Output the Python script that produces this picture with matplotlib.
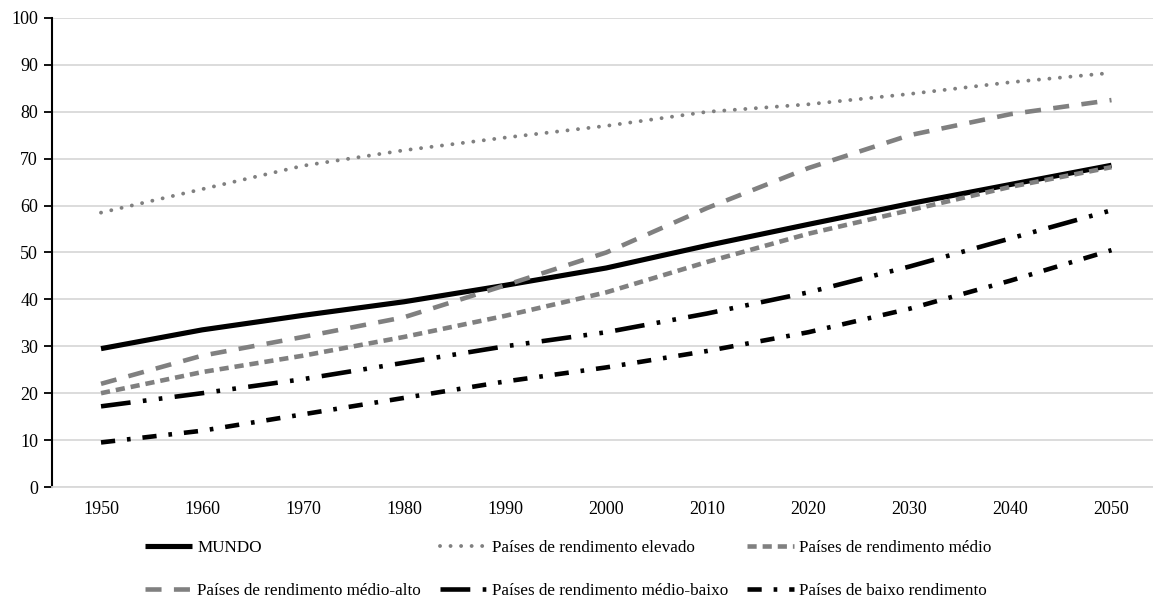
import matplotlib
matplotlib.use('Agg')
import matplotlib.pyplot as plt

# data (urban population share, %)
years = [1950, 1960, 1970, 1980, 1990, 2000, 2010, 2020, 2030, 2040, 2050]
mundo = [29.5, 33.5, 36.6, 39.5, 43.0, 46.7, 51.5, 56.0, 60.4, 64.5, 68.6]
elevado = [58.5, 63.5, 68.5, 71.8, 74.5, 77.0, 80.0, 81.6, 83.8, 86.3, 88.3]
medio = [20.0, 24.5, 28.0, 32.0, 36.5, 41.5, 48.0, 54.0, 59.0, 64.0, 68.2]
medio_alto = [22.0, 28.0, 32.0, 36.2, 43.0, 50.0, 59.5, 68.0, 75.0, 79.5, 82.5]
medio_baixo = [17.2, 20.0, 23.0, 26.5, 30.0, 33.0, 37.0, 41.5, 47.0, 53.0, 59.0]
baixo = [9.5, 12.0, 15.5, 19.0, 22.5, 25.5, 29.0, 33.0, 38.0, 44.0, 50.5]

labels = ['MUNDO', 'Países de rendimento elevado', 'Países de rendimento médio',
          'Países de rendimento médio-alto', 'Países de rendimento médio-baixo',
          'Países de baixo rendimento']

plt.rcParams['font.family'] = ['Liberation Serif', 'DejaVu Serif']

fig = plt.figure(figsize=(11.53, 5.98), dpi=100)
W, H = 1153.0, 598.0
ax = fig.add_axes([52 / W, 1 - 487 / H, (1162 - 52) / W, (487 - 18) / H])

grey = '#808080'
lw = 3.3
lines = []
lines += ax.plot(years, mundo, color='black', lw=3.7, solid_capstyle='butt')
lines += ax.plot(years, elevado, color=grey, lw=2.8, linestyle=(0, (0.01, 2.7)),
                 dash_capstyle='round')
lines += ax.plot(years, medio, color=grey, lw=lw, linestyle=(0, (2.0, 1.3)))
lines += ax.plot(years, medio_alto, color=grey, lw=lw, linestyle=(0, (3.5, 2.7)))
lines += ax.plot(years, medio_baixo, color='black', lw=lw,
                 linestyle=(0, (6.5, 2.7, 0.8, 2.7, 0.8, 2.7)))
lines += ax.plot(years, baixo, color='black', lw=lw,
                 linestyle=(0, (3.1, 2.6, 0.8, 2.6)))

ax.set_xlim(1945.15, 2055)
ax.set_ylim(0, 100)
ax.set_xticks(years)
ax.set_yticks(range(0, 101, 10))
ax.grid(axis='y', color='#d9d9d9', lw=1.3)
ax.set_axisbelow(True)
for s in ['top', 'right']:
    ax.spines[s].set_visible(False)
ax.spines['bottom'].set_color('#d9d9d9')
ax.spines['bottom'].set_linewidth(1.3)
ax.spines['left'].set_linewidth(1.5)
ax.tick_params(axis='x', length=0, pad=10, labelsize=13)
ax.tick_params(axis='y', length=6, width=1.3, pad=4, labelsize=13)

# legend fills by column, so order entries to read row by row
order = [0, 3, 1, 4, 2, 5]
fig.legend([lines[i] for i in order], [labels[i] for i in order], ncol=3,
           loc='upper left', bbox_to_anchor=(145 / W, 1 - 540 / H), frameon=False,
           fontsize=12.3, handlelength=2.75, handletextpad=0.3,
           columnspacing=1.1, labelspacing=1.6, borderaxespad=0, borderpad=0)

fig.savefig('out.png', dpi=100)
